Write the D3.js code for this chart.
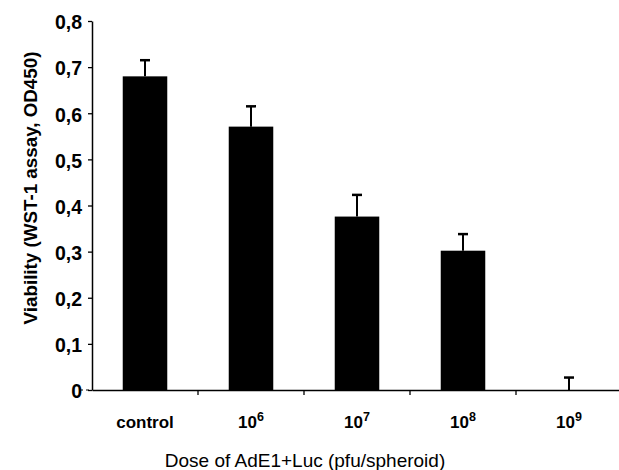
<!DOCTYPE html>
<html>
<head>
<meta charset="utf-8">
<script src="https://cdn.jsdelivr.net/npm/d3@7"></script>
<style>
  body { margin: 0; background: #fff; }
  text { font-family: "Liberation Sans", Arial, sans-serif; fill: #000; }
</style>
</head>
<body>
<script>
// 画布宽高
const width = 619;
const height = 470;

// 数据
const categories = ['control', '6', '7', '8', '9'];
const values = [0.68, 0.571, 0.376, 0.302, 0.0];
const errors = [0.035, 0.044, 0.047, 0.036, 0.027];
const yTicks = [0, 0.1, 0.2, 0.3, 0.4, 0.5, 0.6, 0.7, 0.8];

const padding = {left: 92, right: -3, top: 21, bottom: 80};

const xScale = d3.scaleBand()
      .domain(categories)
      .range([padding.left, width - padding.right]);

const yScale = d3.scaleLinear()
      .domain([0, 0.8])
      .range([height - padding.bottom, padding.top]);

const barWidth = xScale.bandwidth() * 0.42;

let svg = d3.select('body')
    .append('svg')
    .attr('width', width)
    .attr('height', height);

// 柱子
svg.selectAll('.bar')
    .data(values)
    .enter()
    .append('rect')
    .attr('class', 'bar')
    .attr('x', (d, i) => xScale(categories[i]) + xScale.bandwidth() / 2 - barWidth / 2)
    .attr('y', d => yScale(d))
    .attr('width', barWidth)
    .attr('height', d => yScale(0) - yScale(d))
    .attr('fill', '#000');

// 误差线
const err = svg.selectAll('.err')
    .data(values)
    .enter()
    .append('g')
    .attr('class', 'err');
err.append('line')
    .attr('x1', (d, i) => xScale(categories[i]) + xScale.bandwidth() / 2)
    .attr('x2', (d, i) => xScale(categories[i]) + xScale.bandwidth() / 2)
    .attr('y1', d => yScale(d))
    .attr('y2', (d, i) => yScale(d + errors[i]))
    .attr('stroke', '#000')
    .attr('stroke-width', 2);
err.append('line')
    .attr('x1', (d, i) => xScale(categories[i]) + xScale.bandwidth() / 2 - 5)
    .attr('x2', (d, i) => xScale(categories[i]) + xScale.bandwidth() / 2 + 5)
    .attr('y1', (d, i) => yScale(d + errors[i]))
    .attr('y2', (d, i) => yScale(d + errors[i]))
    .attr('stroke', '#000')
    .attr('stroke-width', 2.5);

// x轴
const xAxis = d3.axisBottom(xScale).tickSize(0).tickSizeOuter(0).tickPadding(26);
const gx = svg.append('g')
    .attr('transform', 'translate(0,' + yScale(0) + ')')
    .call(xAxis);
gx.select('.domain').attr('stroke', '#000').attr('stroke-width', 1.3);
gx.selectAll('.tick text')
    .attr('font-size', 17)
    .attr('font-weight', 'bold')
    .text(null)
    .each(function(d) {
      const t = d3.select(this);
      if (d === 'control') {
        t.text('control');
      } else {
        t.append('tspan').text('10');
        t.append('tspan').attr('dy', -7).attr('font-size', 12.5).text(d);
      }
    });
// 分类边界的刻度
svg.selectAll('.xtick')
    .data(categories.slice(1))
    .enter()
    .append('line')
    .attr('x1', d => xScale(d))
    .attr('x2', d => xScale(d))
    .attr('y1', yScale(0))
    .attr('y2', yScale(0) + 5)
    .attr('stroke', '#000')
    .attr('stroke-width', 1.3);
// 零点左侧短线
svg.append('line')
    .attr('x1', padding.left - 12)
    .attr('x2', padding.left)
    .attr('y1', yScale(0))
    .attr('y2', yScale(0))
    .attr('stroke', '#000')
    .attr('stroke-dasharray', '3,3');

// y轴
const yAxis = d3.axisLeft(yScale)
    .tickValues(yTicks)
    .tickSize(4)
    .tickSizeOuter(0)
    .tickPadding(6)
    .tickFormat(d => d === 0 ? '0' : d3.format('.1f')(d).replace('.', ','));
const gy = svg.append('g')
    .attr('transform', 'translate(' + padding.left + ',0)')
    .call(yAxis);
gy.select('.domain').attr('stroke', '#000').attr('stroke-width', 1.5);
gy.selectAll('.tick line').attr('stroke', '#000').attr('stroke-width', 1.3);
gy.selectAll('.tick text').attr('font-size', 19.5).attr('font-weight', 'bold').attr('dy', '0.4em');

// 轴标题
svg.append('text')
    .attr('transform', 'translate(37,' + 188 + ') rotate(-90)')
    .attr('text-anchor', 'middle')
    .attr('font-size', 18.8)
    .attr('font-weight', 'bold')
    .text('Viability (WST-1 assay, OD450)');

svg.append('text')
    .attr('x', 305)
    .attr('y', 467)
    .attr('text-anchor', 'middle')
    .attr('font-size', 19)
    .text('Dose of AdE1+Luc (pfu/spheroid)');
</script>
</body>
</html>
